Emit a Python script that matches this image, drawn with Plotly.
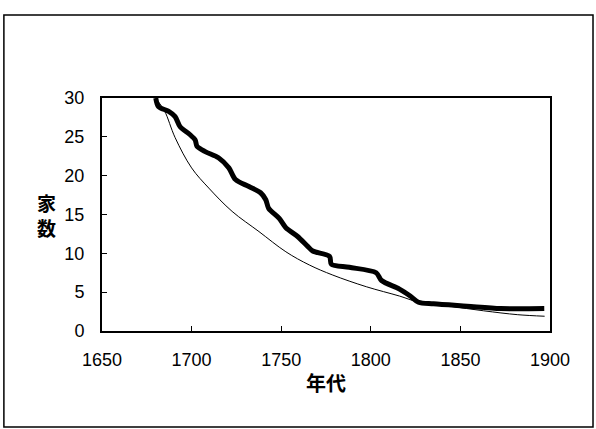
import plotly.graph_objects as go

# Observed number of households (thick line)
obs_year = [1680, 1681.5, 1687, 1690.8, 1693.6, 1699, 1702, 1703, 1707.6, 1715, 1720.8,
            1724.5, 1732, 1738.5, 1741.4, 1743, 1748.9, 1752.6, 1759, 1764.8, 1767.6,
            1777, 1778, 1788, 1803, 1806, 1816, 1822, 1826.6, 1835, 1853.7, 1872.5, 1896.8]
obs_val = [30, 28.9, 28.3, 27.6, 26.3, 25.3, 24.6, 23.8, 23.1, 22.3, 21.0,
           19.5, 18.6, 17.8, 16.9, 15.8, 14.5, 13.3, 12.2, 10.9, 10.3,
           9.6, 8.6, 8.2, 7.5, 6.5, 5.4, 4.5, 3.7, 3.5, 3.2, 2.9, 2.9]

# Fitted curve (thin line)
fit_year = [1681.5, 1685, 1690.8, 1700, 1709.6, 1722.6, 1737.6, 1752.6, 1765.7,
            1778.8, 1797.5, 1816, 1825.6, 1844, 1863, 1882, 1897]
fit_val = [29.5, 28.3, 24.9, 21.0, 18.4, 15.4, 12.8, 10.2, 8.5,
           7.2, 5.7, 4.5, 3.8, 3.2, 2.6, 2.1, 1.9]

x_ticks = [1650, 1700, 1750, 1800, 1850, 1900]
y_ticks = [0, 5, 10, 15, 20, 25, 30]

fig = go.Figure()
fig.add_trace(go.Scatter(x=fit_year, y=fit_val, mode="lines",
                         line=dict(color="black", width=1, shape="spline"),
                         showlegend=False))
fig.add_trace(go.Scatter(x=obs_year, y=obs_val, mode="lines",
                         line=dict(color="black", width=5, shape="spline", smoothing=0.8),
                         showlegend=False))

font_num = dict(family="Liberation Sans, Arial, sans-serif", size=18, color="black")

fig.update_layout(
    width=596, height=429,
    margin=dict(l=102, r=46, t=98, b=98),
    paper_bgcolor="white", plot_bgcolor="white",
    xaxis=dict(range=[1650, 1900], tickvals=x_ticks, ticks="inside", ticklen=5,
               tickcolor="black", showgrid=False, zeroline=False,
               showline=True, linecolor="black", linewidth=2, mirror=True,
               tickfont=font_num, ticklabelstandoff=11,
               title=dict(text="<b>年代</b>", standoff=8,
                          font=dict(family="Noto Sans CJK JP", size=20, color="black"))),
    yaxis=dict(range=[0, 30], tickvals=y_ticks, ticks="inside", ticklen=5,
               tickcolor="black", showgrid=False, zeroline=False,
               showline=True, linecolor="black", linewidth=2, mirror=True,
               tickfont=font_num, ticklabelstandoff=12),
    shapes=[dict(type="rect", xref="paper", yref="paper", x0=-0.219, x1=1.096,
                 y0=-0.412, y1=1.356, line=dict(color="black", width=1.5))],
    annotations=[dict(text="<b>家</b><br><b>数</b>", xref="paper", yref="y", x=-0.123, y=15,
                      showarrow=False, xanchor="center", yanchor="middle",
                      font=dict(family="Noto Sans CJK JP", size=19, color="black"))],
)

fig.write_html("out.html", config={"displayModeBar": False},
               post_script="document.body.style.margin='0';")
